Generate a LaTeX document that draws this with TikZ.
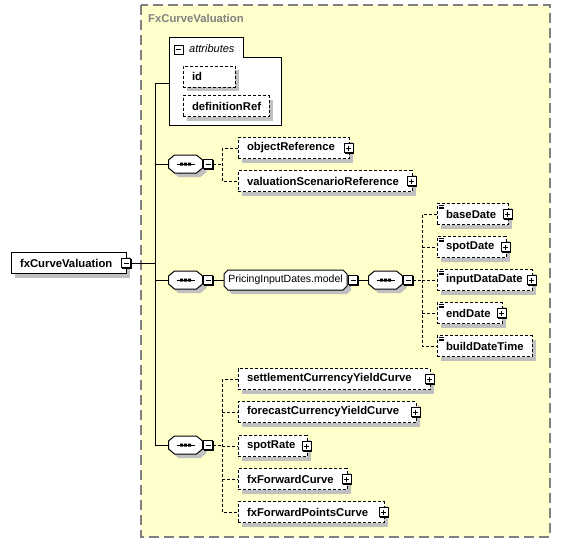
\documentclass[tikz,border=0pt]{standalone}
\usepackage{fontspec}
\setmainfont{Liberation Sans}
\definecolor{bgy}{HTML}{FFFFCC}
\definecolor{shd}{HTML}{C0C0C0}
\definecolor{frm}{HTML}{808080}
\tikzset{
  lbl/.style={font=\fontsize{11.3}{13}\selectfont\bfseries},
  elembox/.style={draw, fill=white, line width=1pt, inner xsep=9pt, inner ysep=0pt,
    minimum height=21pt, align=left, lbl},
  optbox/.style={dash pattern=on 3pt off 2pt},
  conn/.style={line width=1pt},
  oconn/.style={line width=1pt, dash pattern=on 3pt off 2pt},
  pmbase/.style={draw, fill=white, line width=0.8pt, minimum size=9pt, inner sep=0pt},
  minusbox/.style={pmbase, path picture={\draw[line width=1pt]
      ([xshift=2pt]path picture bounding box.west) -- ([xshift=-2pt]path picture bounding box.east);}},
  plusbox/.style={pmbase, path picture={\draw[line width=1pt]
      ([xshift=2pt]path picture bounding box.west) -- ([xshift=-2pt]path picture bounding box.east)
      ([yshift=-2pt]path picture bounding box.north) -- ([yshift=2pt]path picture bounding box.south);}},
  anchorbox/.style={inner sep=0pt, outer sep=0pt}
}
% element box: opts, name, left, right, y, text
\newcommand\xelem[6][]{%
  \pgfmathsetmacro\xelW{#4-#3}%
  \pgfmathsetmacro\xelT{#4-#3-18}%
  \pgfmathsetmacro\xelC{(#3+#4)/2}%
  \fill[shd] (#3+4,#5-10.5+4) rectangle (#4+4,#5+10.5+4);
  \node[elembox, minimum width=\xelW pt, text width=\xelT pt, #1] (#2) at (\xelC,#5) {#6};}
% plus / minus box: style, name, position
\newcommand\xpm[3]{%
  \path #3 coordinate (#2-c);
  \fill ([shift={(-4pt,4pt)}]#2-c) rectangle ([shift={(5.9pt,-5.9pt)}]#2-c);
  \node[#1] (#2) at (#2-c) {};}
\newcommand\xplus[1]{\xpm{plusbox}{#1-p}{([xshift=-1pt]#1.east)}}
\newcommand\xsimple[1]{\draw[line width=0.6pt]
  ([xshift=2pt,yshift=-2pt]#1.north west) -- ++(5,0)
  ([xshift=2pt,yshift=-3.8pt]#1.north west) -- ++(5,0)
  ([xshift=2pt,yshift=-5.6pt]#1.north west) -- ++(5,0);}
% sequence compositor: name, cx, cy
\newcommand\xseq[3]{%
  \fill[shd, shift={(#2+4,#3+4)}] (-11,-9) -- (11,-9) -- (17,-4) -- (17,4) -- (11,9) -- (-11,9) -- (-17,4) -- (-17,-4) -- cycle;
  \draw[line width=1pt, fill=white, shift={(#2,#3)}] (-11,-9) -- (11,-9) -- (17,-4) -- (17,4) -- (11,9) -- (-11,9) -- (-17,4) -- (-17,-4) -- cycle;
  \draw[line width=1pt, shift={(#2,#3)}] (-9,0) -- (9,0);
  \fill[shift={(#2,#3)}] (-5.5,-1.5) rectangle (-2.5,1.5) (-1.5,-1.5) rectangle (1.5,1.5) (2.5,-1.5) rectangle (5.5,1.5);
  \node[anchorbox, minimum width=34pt, minimum height=18pt] (#1) at (#2,#3) {};}
% model group: name, left, right, y, text
\newcommand\xgrp[5]{%
  \fill[shd, shift={(4,4)}] (#2+4,#4-10) -- (#3-4,#4-10) -- (#3,#4-6) -- (#3,#4+6) -- (#3-4,#4+10) -- (#2+4,#4+10) -- (#2,#4+6) -- (#2,#4-6) -- cycle;
  \draw[line width=1pt, fill=white] (#2+4,#4-10) -- (#3-4,#4-10) -- (#3,#4-6) -- (#3,#4+6) -- (#3-4,#4+10) -- (#2+4,#4+10) -- (#2,#4+6) -- (#2,#4-6) -- cycle;
  \pgfmathsetmacro\xelW{#3-#2}%
  \pgfmathsetmacro\xelC{(#2+#3)/2}%
  \node[anchorbox, minimum width=\xelW pt, minimum height=20pt, font=\fontsize{10.5}{12}\selectfont] (#1) at (\xelC,#4) {#5};}
\begin{document}
\begin{tikzpicture}[x=1pt,y=-1pt]
\useasboundingbox (0,0) rectangle (561,543);
\fill[white] (0,0) rectangle (561,543);
% outer group
\draw[frm, fill=bgy, line width=1.5pt, dash pattern=on 10pt off 5pt] (141,5) rectangle (550,537);
\node[anchor=west, text=frm, lbl, inner sep=0pt] (title) at (148,18) {FxCurveValuation};
% attributes
\draw[line width=1pt, fill=white] (169,125) -- (169,38) -- (243,38) -- (243,57) -- (281,57) -- (281,125) -- cycle;
\xpm{minusbox}{attr-m}{(178.5,49.5)}
\node[anchor=west, inner sep=0pt, font=\fontsize{11}{13}\selectfont\itshape] (attrlbl) at (189,48.5) {attributes};
\xelem[optbox]{id}{183}{235}{76.5}{id}
\xelem[optbox]{defref}{183}{269}{106}{definitionRef}
\coordinate (attrin) at (169,83);
% root
\xelem{root}{11}{126}{263}{fxCurveValuation}
\xpm{minusbox}{root-m}{([xshift=-0.5pt]root.east)}
\coordinate (spinetop) at (155,83);
\coordinate (spinebot) at (155,445);
\draw[conn] (spinetop) -- (spinebot);
\draw[conn] (spinetop) -- (attrin);
\draw[conn] (root-m.east) -- (root-m.east -| spinetop);
% sequence 1
\xseq{s1}{185.5}{164}
\xpm{minusbox}{s1-m}{(208,164)}
\draw[conn] (s1.west -| spinetop) -- (s1.west);
\coordinate (b1) at (222,164);
\draw[oconn] (s1-m.east) -- (b1);
\xelem[optbox]{objref}{238}{349}{148}{objectReference}\xplus{objref}
\xelem[optbox]{valref}{238}{412}{181}{valuationScenarioReference}\xplus{valref}
\draw[oconn] (objref.west) -- (objref.west -| b1) -- (valref.west -| b1) -- (valref.west);
% sequence 2
\xseq{s2}{185.5}{280}
\xpm{minusbox}{s2-m}{(208,280)}
\draw[conn] (s2.west -| spinetop) -- (s2.west);
\xgrp{pid}{224}{347}{280}{PricingInputDates.model}
\xpm{minusbox}{pid-m}{(353,280)}
\draw[conn] (s2-m.east) -- (pid.west);
\xseq{s2b}{385.5}{280}
\xpm{minusbox}{s2b-m}{(408,280)}
\draw[conn] (pid-m.east) -- (s2b.west);
\coordinate (b2) at (422,280);
\draw[oconn] (s2b-m.east) -- (b2);
\xelem[optbox]{based}{437}{508}{214}{baseDate}\xplus{based}\xsimple{based}
\xelem[optbox]{spotd}{437}{506}{247}{spotDate}\xplus{spotd}\xsimple{spotd}
\xelem[optbox]{inputd}{437}{532}{280}{inputDataDate}\xplus{inputd}\xsimple{inputd}
\xelem[optbox]{endd}{437}{502}{313}{endDate}\xplus{endd}\xsimple{endd}
\xelem[optbox]{builddt}{437}{532}{346}{buildDateTime}\xsimple{builddt}
\draw[oconn] (based.west) -- (based.west -| b2) -- (builddt.west -| b2) -- (builddt.west);
\draw[oconn] (spotd.west -| b2) -- (spotd.west);
\draw[oconn] (inputd.west -| b2) -- (inputd.west);
\draw[oconn] (endd.west -| b2) -- (endd.west);
% sequence 3
\xseq{s3}{185.5}{445}
\xpm{minusbox}{s3-m}{(208,445)}
\draw[conn] (s3.west -| spinetop) -- (s3.west);
\coordinate (b3) at (222,445);
\draw[oconn] (s3-m.east) -- (b3);
\xelem[optbox]{scyc}{238}{430}{379}{settlementCurrencyYieldCurve}\xplus{scyc}
\xelem[optbox]{fcyc}{238}{416}{412}{forecastCurrencyYieldCurve}\xplus{fcyc}
\xelem[optbox]{spotr}{238}{307}{446}{spotRate}\xplus{spotr}
\xelem[optbox]{fxfc}{238}{347}{479}{fxForwardCurve}\xplus{fxfc}
\xelem[optbox]{fxfpc}{238}{384}{512}{fxForwardPointsCurve}\xplus{fxfpc}
\draw[oconn] (scyc.west) -- (scyc.west -| b3) -- (fxfpc.west -| b3) -- (fxfpc.west);
\draw[oconn] (fcyc.west -| b3) -- (fcyc.west);
\draw[oconn] (spotr.west -| b3) -- (spotr.west);
\draw[oconn] (fxfc.west -| b3) -- (fxfc.west);
\end{tikzpicture}
\end{document}
